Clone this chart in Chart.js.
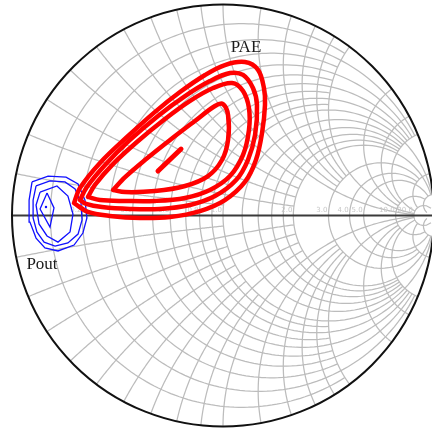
<!DOCTYPE html>
<html>
<head>
<meta charset="utf-8">
<script src="https://cdn.jsdelivr.net/npm/chart.js@4.4.0/dist/chart.umd.min.js"></script>
<style>
  html, body { margin: 0; padding: 0; background: #fff; }
  canvas { display: block; }
</style>
</head>
<body>
<canvas id="smith" width="432" height="434"></canvas>
<script>
// contours as reflection coefficient points [re, im]
const pae1 = [[-0.706,0.059],[-0.678,0.130],[-0.583,0.249],[-0.455,0.372],[-0.322,0.491],[-0.204,0.585],[-0.085,0.666],[0.009,0.713],[0.104,0.727],[0.166,0.690],[0.194,0.604],[0.199,0.524],[0.185,0.391],[0.156,0.263],[0.104,0.159],[0.009,0.073],[-0.109,0.021],[-0.251,-0.007],[-0.393,-0.012],[-0.536,-0.002],[-0.640,0.017],[-0.706,0.059]];
const pae2 = [[-0.678,0.073],[-0.645,0.135],[-0.559,0.239],[-0.441,0.358],[-0.308,0.472],[-0.180,0.566],[-0.062,0.637],[0.033,0.675],[0.095,0.666],[0.142,0.604],[0.161,0.524],[0.152,0.382],[0.118,0.263],[0.062,0.168],[-0.038,0.092],[-0.156,0.050],[-0.299,0.031],[-0.441,0.031],[-0.573,0.040],[-0.649,0.055],[-0.678,0.073]];
const pae3 = [[-0.640,0.088],[-0.607,0.145],[-0.526,0.239],[-0.408,0.348],[-0.275,0.457],[-0.156,0.543],[-0.047,0.604],[0.043,0.628],[0.095,0.590],[0.123,0.509],[0.123,0.405],[0.095,0.287],[0.033,0.187],[-0.062,0.121],[-0.180,0.083],[-0.322,0.069],[-0.464,0.069],[-0.583,0.073],[-0.640,0.088]];
const pae4 = [[-0.521,0.121],[-0.464,0.182],[-0.370,0.263],[-0.251,0.358],[-0.133,0.448],[-0.038,0.519],[0.000,0.528],[0.024,0.476],[0.024,0.358],[-0.005,0.263],[-0.071,0.187],[-0.180,0.140],[-0.322,0.116],[-0.464,0.111],[-0.521,0.121]];
const pae5 = [[-0.308,0.211],[-0.199,0.315]];

const pout1 = [[-0.905,0.159],[-0.829,0.187],[-0.744,0.182],[-0.687,0.149],[-0.654,0.073],[-0.645,-0.012],[-0.664,-0.083],[-0.706,-0.140],[-0.782,-0.168],[-0.844,-0.154],[-0.886,-0.107],[-0.915,-0.031],[-0.919,0.073],[-0.905,0.159]];
const pout2 = [[-0.886,0.140],[-0.820,0.164],[-0.749,0.159],[-0.701,0.126],[-0.673,0.059],[-0.668,-0.021],[-0.687,-0.088],[-0.735,-0.130],[-0.796,-0.145],[-0.848,-0.126],[-0.882,-0.078],[-0.900,-0.012],[-0.900,0.073],[-0.886,0.140]];
const pout3 = [[-0.867,0.111],[-0.787,0.140],[-0.735,0.092],[-0.711,0.007],[-0.725,-0.078],[-0.782,-0.126],[-0.834,-0.097],[-0.872,-0.040],[-0.886,0.050],[-0.867,0.111]];
const pout4 = [[-0.834,0.107],[-0.801,0.036],[-0.820,-0.055],[-0.867,0.031],[-0.834,0.107]];
const poutPeak = [[-0.839,0.040]];

// Smith grid: normalised values and how far each line runs into the other family
const resistanceCircles = [0.1, 0.2, 0.3, 0.4, 0.5, 0.6, 0.7, 0.8, 0.9, 1.0, 1.2, 1.4, 1.6, 1.8, 2.0, 3.0, 4.0, 5.0, 10, 20];
const resistanceLimits  = [2, 5, 2, 5, 2, 5, 2, 5, 2, 20, 5, 5, 5, 5, 20, 10, 10, 20, 20, 50];
const reactanceArcs     = [0.1, 0.2, 0.3, 0.4, 0.5, 0.6, 0.7, 0.8, 0.9, 1.0, 1.2, 1.4, 1.6, 1.8, 2.0, 3.0, 4.0, 5.0, 10, 20];
const reactanceLimits   = [1, 2, 1, 2, 1, 2, 1, 2, 1, 20, 3, 3, 3, 3, 20, 10, 10, 20, 20, 50];
const axisLabels = ['0.2', '0.4', '0.6', '0.8', '1.0', '2.0', '3.0', '4.0', '5.0', '10.0', '20.0'];
const axisLabelValues = [0.2, 0.4, 0.6, 0.8, 1.0, 2.0, 3.0, 4.0, 5.0, 10, 20];

// contour labels
const labelText = ['PAE', 'Pout'];
const labelPos = [[0.109, 0.794], [-0.858, -0.230]];

const gamma = (r, xx) => {
  const d = (r + 1) * (r + 1) + xx * xx;
  return [(r * r + xx * xx - 1) / d, 2 * xx / d];
};

const smithGrid = {
  id: 'smithGrid',
  beforeDatasetsDraw(chart) {
    const { ctx, scales: { x, y } } = chart;
    const px = (a, b) => [x.getPixelForValue(a), y.getPixelForValue(b)];
    const [cx, cy] = px(0, 0);
    const R = x.getPixelForValue(1) - cx;
    const path = (fn, t0, t1) => {
      ctx.beginPath();
      for (let i = 0; i <= 180; i++) {
        const t = t0 + (t1 - t0) * i / 180;
        const [u, v] = px(...fn(t));
        i ? ctx.lineTo(u, v) : ctx.moveTo(u, v);
      }
      ctx.stroke();
    };
    ctx.save();
    ctx.beginPath();
    ctx.arc(cx, cy, R, 0, 2 * Math.PI);
    ctx.clip();
    ctx.strokeStyle = '#bcbcbc';
    ctx.lineWidth = 1.25;
    resistanceCircles.forEach((r, i) => {
      const m = Math.atan(resistanceLimits[i]);
      path(t => gamma(r, Math.tan(t)), -m, m);
    });
    reactanceArcs.forEach((xx, i) => {
      const m = Math.atan(reactanceLimits[i]);
      path(t => gamma(Math.tan(t), xx), 0, m);
      path(t => gamma(Math.tan(t), -xx), 0, m);
    });
    // tiny axis labels
    ctx.fillStyle = '#c8c8c8';
    ctx.font = '7px "DejaVu Sans"';
    ctx.textAlign = 'right';
    ctx.textBaseline = 'bottom';
    axisLabelValues.forEach((r, i) => {
      const [u, v] = px(...gamma(r, 0));
      ctx.fillText(axisLabels[i], u - 1, v - 2);
    });
    ctx.restore();

    // real axis
    ctx.save();
    ctx.strokeStyle = '#3a3a3a';
    ctx.lineWidth = 2.2;
    ctx.beginPath();
    ctx.moveTo(...px(-1, 0));
    ctx.lineTo(...px(1, 0));
    ctx.stroke();
    // outer circle
    ctx.strokeStyle = '#111';
    ctx.lineWidth = 2;
    ctx.beginPath();
    ctx.arc(cx, cy, R, 0, 2 * Math.PI);
    ctx.stroke();
    ctx.restore();
  },
  afterDatasetsDraw(chart) {
    const { ctx, scales: { x, y } } = chart;
    ctx.save();
    ctx.fillStyle = '#1a1a1a';
    ctx.font = '17px "Liberation Serif"';
    ctx.textAlign = 'center';
    ctx.textBaseline = 'middle';
    labelText.forEach((t, i) => {
      ctx.fillText(t, x.getPixelForValue(labelPos[i][0]), y.getPixelForValue(labelPos[i][1]));
    });
    ctx.restore();
  }
};

const toXY = arr => arr.map(([a, b]) => ({ x: a, y: b }));
const red = (arr, w) => ({ data: toXY(arr), showLine: true, borderColor: '#ff0000', borderWidth: w, pointRadius: 0, tension: 0.35, borderCapStyle: 'round', borderJoinStyle: 'round' });
const blue = arr => ({ data: toXY(arr), showLine: true, borderColor: '#1010ff', borderWidth: 1.3, pointRadius: 0, tension: 0 });

new Chart(document.getElementById('smith'), {
  type: 'scatter',
  data: {
    datasets: [
      red(pae1, 4.5), red(pae2, 4.5), red(pae3, 4.5), red(pae4, 4.5), red(pae5, 5),
      blue(pout1), blue(pout2), blue(pout3), blue(pout4),
      { data: toXY(poutPeak), pointRadius: 1.2, backgroundColor: '#1010ff', borderWidth: 0 }
    ]
  },
  options: {
    responsive: false,
    animation: false,
    layout: { padding: 0, autoPadding: false },
    plugins: { legend: { display: false }, tooltip: { enabled: false } },
    scales: {
      x: { type: 'linear', min: -1.0569, max: 0.9905, display: false },
      y: { type: 'linear', min: -1.0355, max: 1.0213, display: false }
    }
  },
  plugins: [smithGrid]
});
</script>
</body>
</html>
